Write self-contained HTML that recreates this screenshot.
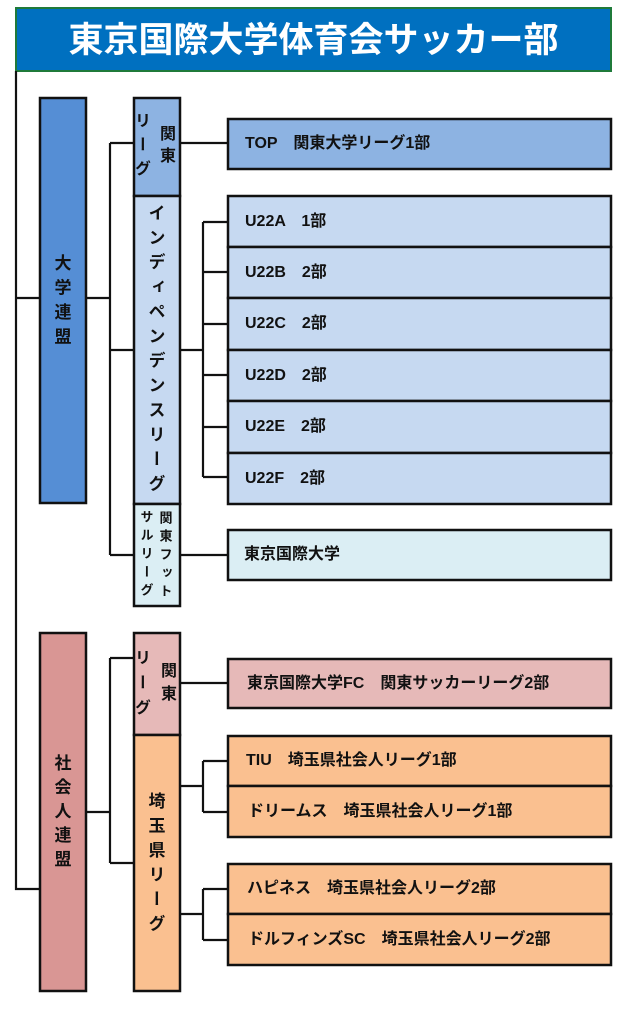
<!DOCTYPE html>
<html><head><meta charset="utf-8"><style>
html,body{margin:0;padding:0;background:#fff;}
#c{position:relative;width:635px;height:1020px;overflow:hidden;background:#fff;}
svg{position:absolute;left:0;top:0;}
.t{position:absolute;font-family:"Liberation Sans","Noto Sans CJK JP",sans-serif;font-weight:bold;font-size:16px;color:#111;white-space:nowrap;}
.v{position:absolute;font-family:"Noto Sans CJK JP",sans-serif;font-weight:bold;color:#111;writing-mode:vertical-rl;white-space:nowrap;}
#title{position:absolute;left:15px;top:7px;width:597px;height:65px;line-height:62px;text-align:center;color:#fff;font-family:"Noto Sans CJK JP",sans-serif;font-weight:bold;font-size:35px;}
</style></head><body><div id="c">
<svg width="635" height="1020" viewBox="0 0 635 1020">
<rect x="16" y="8" width="595" height="63" fill="#0070C0" stroke="#1f7a3a" stroke-width="2"/>
<g stroke="#111" stroke-width="2.2" fill="none">
<path d="M16 71 V889 H40"/>
<path d="M16 298 H40"/>
<path d="M86 298 H110 M110 143 V555 M110 143 H134 M110 350 H134 M110 555 H134"/>
<path d="M180 143 H228"/>
<path d="M180 350 H203 M203 222 V477 M203 222 H228 M203 272 H228 M203 324 H228 M203 375 H228 M203 427 H228 M203 477 H228"/>
<path d="M180 555 H228"/>
<path d="M86 812 H110 M110 658 V863 M110 658 H134 M110 863 H134"/>
<path d="M180 683 H228"/>
<path d="M180 786 H203 M203 761 V812 M203 761 H228 M203 812 H228"/>
<path d="M180 914 H203 M203 889 V940 M203 889 H228 M203 940 H228"/>
</g>
<g stroke="#111" stroke-width="2.5">
<rect x="40" y="98" width="46" height="405" fill="#558ED5"/>
<rect x="134" y="98" width="46" height="98" fill="#8DB3E2"/>
<rect x="134" y="196" width="46" height="308" fill="#C6D9F1"/>
<rect x="134" y="504" width="46" height="102" fill="#DBEEF4"/>
<rect x="228" y="119" width="383" height="50" fill="#8DB3E2"/>
<rect x="228" y="196" width="383" height="51" fill="#C6D9F1"/>
<rect x="228" y="247" width="383" height="51" fill="#C6D9F1"/>
<rect x="228" y="298" width="383" height="52" fill="#C6D9F1"/>
<rect x="228" y="350" width="383" height="51" fill="#C6D9F1"/>
<rect x="228" y="401" width="383" height="52" fill="#C6D9F1"/>
<rect x="228" y="453" width="383" height="51" fill="#C6D9F1"/>
<rect x="228" y="530" width="383" height="50" fill="#DBEEF4"/>
<rect x="40" y="633" width="46" height="358" fill="#D99694"/>
<rect x="134" y="633" width="46" height="102" fill="#E6B9B8"/>
<rect x="134" y="735" width="46" height="256" fill="#FAC090"/>
<rect x="228" y="659" width="383" height="49" fill="#E6B9B8"/>
<rect x="228" y="736" width="383" height="50" fill="#FAC090"/>
<rect x="228" y="786" width="383" height="51" fill="#FAC090"/>
<rect x="228" y="864" width="383" height="50" fill="#FAC090"/>
<rect x="228" y="914" width="383" height="51" fill="#FAC090"/>
</g>
</svg>
<div id="title">東京国際大学体育会サッカー部</div>

<div class="t" style="left:245px;top:119px;line-height:50px;">TOP　関東大学リーグ1部</div>
<div class="t" style="left:245px;top:196px;line-height:51px;">U22A　1部</div>
<div class="t" style="left:245px;top:247px;line-height:51px;">U22B　2部</div>
<div class="t" style="left:245px;top:298px;line-height:52px;">U22C　2部</div>
<div class="t" style="left:245px;top:350px;line-height:51px;">U22D　2部</div>
<div class="t" style="left:245px;top:401px;line-height:52px;">U22E　2部</div>
<div class="t" style="left:245px;top:453px;line-height:51px;">U22F　2部</div>
<div class="t" style="left:244px;top:530px;line-height:50px;">東京国際大学</div>
<div class="t" style="left:247px;top:659px;line-height:49px;">東京国際大学FC　関東サッカーリーグ2部</div>
<div class="t" style="left:246px;top:736px;line-height:50px;">TIU　埼玉県社会人リーグ1部</div>
<div class="t" style="left:248px;top:786px;line-height:51px;">ドリームス　埼玉県社会人リーグ1部</div>
<div class="t" style="left:247px;top:864px;line-height:50px;">ハピネス　埼玉県社会人リーグ2部</div>
<div class="t" style="left:248px;top:914px;line-height:51px;">ドルフィンズSC　埼玉県社会人リーグ2部</div>

<div class="v" style="left:54.5px;top:253.5px;font-size:17px;line-height:17px;letter-spacing:7.5px;">大学連盟</div>
<div class="v" style="left:54.5px;top:753.5px;font-size:17px;line-height:17px;letter-spacing:7px;">社会人連盟</div>

<div class="v" style="left:160px;top:125px;font-size:16px;line-height:16px;letter-spacing:6px;">関東</div>
<div class="v" style="left:135px;top:112px;font-size:16px;line-height:16px;letter-spacing:8px;">リーグ</div>

<div class="v" style="left:148.5px;top:203.5px;font-size:17px;line-height:17px;letter-spacing:7.6px;">インディペンデンスリーグ</div>

<div class="v" style="left:159.5px;top:510.5px;font-size:13px;line-height:13px;letter-spacing:5.3px;">関東フット</div>
<div class="v" style="left:140.5px;top:509.5px;font-size:13px;line-height:13px;letter-spacing:5.3px;">サルリーグ</div>

<div class="v" style="left:161px;top:662px;font-size:16px;line-height:16px;letter-spacing:7px;">関東</div>
<div class="v" style="left:135px;top:649px;font-size:16px;line-height:16px;letter-spacing:9px;">リーグ</div>

<div class="v" style="left:148.5px;top:791.5px;font-size:17px;line-height:17px;letter-spacing:7.5px;">埼玉県リーグ</div>
</div></body></html>
